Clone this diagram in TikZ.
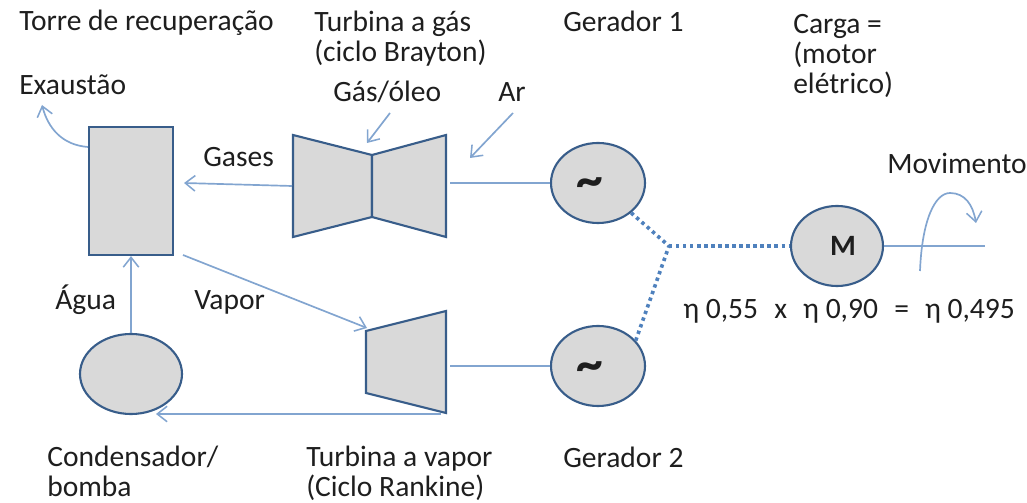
\documentclass[tikz,border=0pt]{standalone}
\usepackage{fontspec}
\setmainfont{Carlito}
\usetikzlibrary{arrows.meta, positioning, calc, shapes.geometric}
\definecolor{linha}{RGB}{130,165,208}
\definecolor{borda}{RGB}{56,93,138}
\definecolor{cinza}{RGB}{217,217,217}
\definecolor{pontos}{RGB}{79,129,189}
\definecolor{texto}{RGB}{30,30,30}
\tikzset{
  rotulo/.style={anchor=base west, inner sep=0pt, align=left, text=texto, font=\fontsize{21}{21.5}\selectfont},
  corpo/.style={draw=borda, fill=cinza, line width=1.5pt, line join=miter},
  elipse/.style={corpo, ellipse, inner sep=0pt, minimum width=#1*0.025cm, minimum height=2cm},
  fluxo/.style={linha, line width=1.2pt, -{Straight Barb[length=7pt,width=11pt,line width=1.1pt]}},
  eixo/.style={linha, line width=1.2pt},
  eletrico/.style={pontos, line width=2.6pt, dash pattern=on 2.4pt off 2.6pt},
  til/.style={text=texto, inner sep=0pt, font=\fontsize{38}{38}\bfseries\selectfont}
}
\begin{document}
\begin{tikzpicture}[x=0.025cm, y=-0.025cm]
  \useasboundingbox (0,0) rectangle (1027,503);
  % Equipment
  \node[corpo, minimum width=2.1cm, minimum height=3.2cm, inner sep=0pt] (torre) at (131,191) {};
  \node[elipse=102] (condensador) at (131,374) {};
  \node[elipse=94] (gerador1) at (598,183) {};
  \node[elipse=94] (gerador2) at (598,366) {};
  \node[elipse=92] (motor) at (837,246) {};
  \node[text=texto, inner sep=0pt, font=\fontsize{21}{21.5}\bfseries\selectfont] (lMotor) at (843,246) {M};
  \node[til] (til1) at (590,188) {\textasciitilde};
  \node[til] (til2) at (590,372) {\textasciitilde};
  % Turbines
  \draw[corpo] (293,135) -- (372,155) -- (372,217) -- (293,237) -- cycle;
  \draw[corpo] (372,155) -- (446,135) -- (446,237) -- (372,217) -- cycle;
  \draw[corpo] (366,331) -- (446,311) -- (446,413) -- (366,393) -- cycle;
  \coordinate (gasEntra) at (292,186);
  \coordinate (gasSai) at (450,183);
  \coordinate (vaporSai) at (450,366);
  \coordinate (vaporFundo) at (441,414);
  \coordinate (vaporEntra) at (367,328);
  \coordinate (juncao) at (669,246);
  % Flows
  \draw[fluxo] (gasEntra) -- (184,183);
  \draw[fluxo] (183,255) -- (vaporEntra);
  \draw[fluxo] (condensador.north) -- (torre.south);
  \draw[fluxo] (vaporFundo) -- (156,414);
  \draw[fluxo] (390,113) -- (367,143);
  \draw[fluxo] (513,113) -- (470,158);
  \draw[fluxo] (torre.west |- 0,147) .. controls (62,145) and (48,128) .. (42,105);
  \draw[eixo] (gasSai) -- (gerador1.west);
  \draw[eixo] (vaporSai) -- (gerador2.west);
  \draw[eixo] (motor.east) -- (985,246);
  \draw[fluxo] (920,271) .. controls (922,220) and (935,193) .. (950,193) .. controls (965,193) and (973,205) .. (976,223);
  % Electrical
  \draw[eletrico] (gerador1.-42) -- (juncao);
  \draw[eletrico] (gerador2.34) -- (juncao);
  \draw[eletrico] (juncao) -- (motor.west);
  % Labels
  \node[rotulo] (lTorre) at (19,31) {Torre de recuperação};
  \node[rotulo] (lGas) at (314,62) {Turbina a gás\\(ciclo Brayton)};
  \node[rotulo] (lExaustao) at (19,95) {Exaustão};
  \node[rotulo] (lOleo) at (333,102) {Gás/óleo};
  \node[rotulo] (lAr) at (498,102) {Ar};
  \node[rotulo] (lGases) at (203,167) {Gases};
  \node[rotulo] (lGer1) at (563,32) {Gerador 1};
  \node[rotulo] (lCarga) at (793,94) {Carga =\\(motor\\elétrico)};
  \node[rotulo] (lMov) at (887,174) {Movimento};
  \node[rotulo] (lAgua) at (55,310) {Água};
  \node[rotulo] (lVapor) at (194,310) {Vapor};
  \node[rotulo] (lEta) at (683,319) {η 0,55\hspace{11.5pt}x\hspace{11.5pt}η 0,90\hspace{11.5pt}=\hspace{11.5pt}η 0,495};
  \node[rotulo] (lCond) at (47,497) {Condensador/\\bomba};
  \node[rotulo] (lVap) at (306,497) {Turbina a vapor\\(Ciclo Rankine)};
  \node[rotulo] (lGer2) at (563,468) {Gerador 2};
\end{tikzpicture}
\end{document}
